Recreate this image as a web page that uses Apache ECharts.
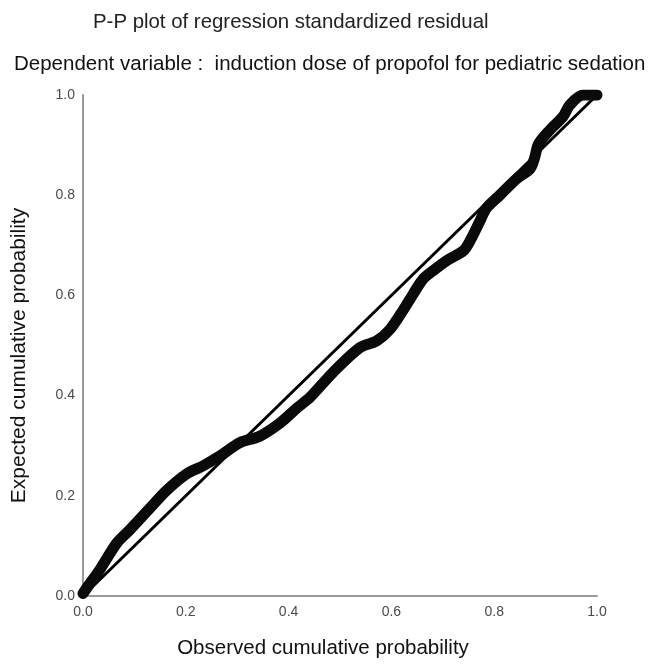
<!DOCTYPE html>
<html><head><meta charset="utf-8">
<script src="https://cdn.jsdelivr.net/npm/echarts@6/dist/echarts.min.js"></script>
<style>html,body{margin:0;padding:0;background:#fff}#c{width:649px;height:664px}</style>
</head><body><div id="c"></div>
<script>
const titleText = 'P-P plot of regression standardized residual';
const subtitleText = 'Dependent variable :  induction dose of propofol for pediatric sedation';
const xAxisName = 'Observed cumulative probability';
const yAxisName = 'Expected cumulative probability';
const tickLabels = ['0.0','0.2','0.4','0.6','0.8','1.0'];
const observed = [0.000,0.010,0.033,0.066,0.091,0.130,0.163,0.202,0.234,0.267,0.305,0.344,0.383,0.416,0.442,0.487,0.539,0.571,0.597,0.623,0.643,0.662,0.682,0.707,0.740,0.753,0.772,0.785,0.811,0.844,0.870,0.879,0.886,0.909,0.934,0.947,0.973,1.000];
const expected = [0.005,0.020,0.053,0.106,0.132,0.175,0.211,0.244,0.260,0.280,0.306,0.319,0.345,0.375,0.397,0.447,0.496,0.509,0.532,0.571,0.604,0.633,0.650,0.669,0.689,0.709,0.748,0.774,0.800,0.833,0.853,0.876,0.902,0.931,0.957,0.980,1.000,1.000];
const diagonal = [[0,0],[1,1]];

const chart = echarts.init(document.getElementById('c'));
chart.setOption({
  animation:false,
  backgroundColor:'#fff',
  title:[
    {text:titleText,left:88,top:7,textStyle:{fontFamily:'Liberation Sans',fontSize:20.4,fontWeight:'normal',color:'#222'}},
    {text:subtitleText,left:9,top:49,textStyle:{fontFamily:'Liberation Sans',fontSize:20.5,fontWeight:'normal',color:'#111'}}
  ],
  grid:{left:83,right:52,top:95,bottom:60},
  xAxis:{type:'value',min:0,max:1,interval:0.2,
    name:xAxisName,nameLocation:'middle',nameGap:42,
    nameTextStyle:{fontFamily:'Liberation Sans',fontSize:20.5,color:'#111',padding:[0,34,0,0]},
    axisLine:{lineStyle:{color:'#999',width:2}},axisTick:{show:false},splitLine:{show:false},
    axisLabel:{fontFamily:'Liberation Sans',fontSize:14,color:'#4a4a4a',margin:9,formatter:(v)=>tickLabels[Math.round(v*5)]}},
  yAxis:{type:'value',min:0,max:1,interval:0.2,
    name:yAxisName,nameLocation:'middle',nameGap:53,
    nameTextStyle:{fontFamily:'Liberation Sans',fontSize:21,color:'#111',padding:[0,20,0,0]},
    axisLine:{show:true,lineStyle:{color:'#999',width:2}},axisTick:{show:false},splitLine:{show:false},
    axisLabel:{fontFamily:'Liberation Sans',fontSize:14,color:'#4a4a4a',margin:8,formatter:(v)=>tickLabels[Math.round(v*5)]}},
  series:[
    {type:'line',data:diagonal,symbol:'none',lineStyle:{color:'#000',width:3},z:2},
    {type:'line',data:observed.map((x,i)=>[x,expected[i]]),symbol:'none',smooth:0.3,
      lineStyle:{color:'#0a0a0a',width:11,cap:'round',join:'round'},z:3}
  ]
});
</script></body></html>
